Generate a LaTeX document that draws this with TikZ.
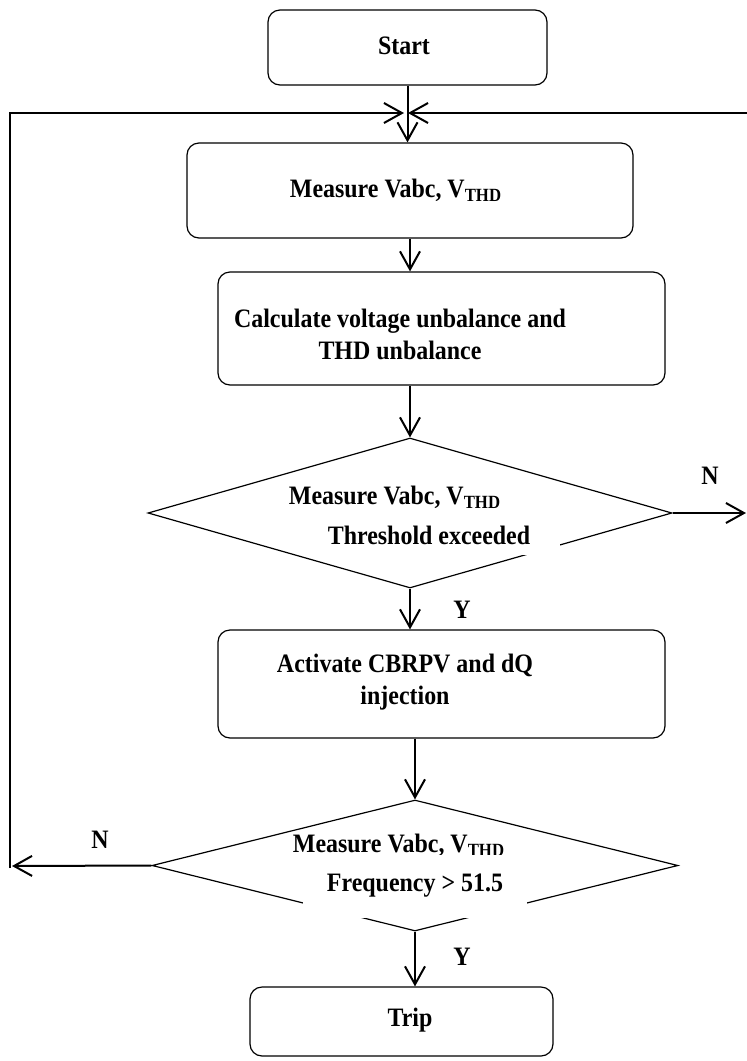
\documentclass[tikz,border=0pt]{standalone}
\usepackage{fontspec}
\setmainfont{Liberation Serif}[FakeStretch=0.9]
\usetikzlibrary{arrows.meta,shapes.geometric}

\begin{document}
\begin{tikzpicture}[x=0.5pt, y=-0.5pt,
  box/.style={rectangle, rounded corners=6pt, draw, line width=0.6pt, inner sep=0pt},
  decision/.style={diamond, draw, line width=0.6pt, inner sep=0pt},
  txt/.style={font=\bfseries\fontsize{13.3}{16}\selectfont, align=center, inner sep=1pt},
  mask/.style={txt, fill=white, inner sep=0pt},
  flow/.style={-{Straight Barb[length=9pt, width=10pt]}, line width=1pt},
  tag/.style={font=\bfseries\fontsize{13.3}{14}\selectfont}
]
  \useasboundingbox (0,0) rectangle (747,1061);
  % Process boxes
  \node[box, minimum width=139.5pt, minimum height=37.5pt] (start) at (407.5,47.5) {};
  \node[box, minimum width=223pt, minimum height=47.5pt]   (meas)  at (410,190.5) {};
  \node[box, minimum width=223.5pt, minimum height=56.5pt] (calc)  at (441.5,328.5) {};
  \node[box, minimum width=223.5pt, minimum height=54pt]   (act)   at (441.5,684) {};
  \node[box, minimum width=151.5pt, minimum height=34.5pt] (trip)  at (401.5,1021.5) {};
  % Decisions
  \node[decision, minimum width=262pt, minimum height=75pt]   (d1) at (410,513) {};
  \node[decision, minimum width=263pt, minimum height=65.5pt] (d2) at (415,865.5) {};
  % Texts
  \node[txt] (tstart) at (404,46)  {Start};
  \node[txt] (tmeas)  at (396,190) {Measure Vabc, V\textsubscript{THD}};
  \node[txt] (tcalc)  at (400,334) {Calculate voltage unbalance and\\THD unbalance};
  \node[txt] (tact)   at (405,682) {Activate CBRPV and dQ\\injection};
  \node[txt] (ttrip)  at (410,1020) {Trip};
  \node[txt] (td1a) at (395,497) {Measure Vabc, V\textsubscript{THD}};
  \node[mask, minimum width=131pt, minimum height=19.5pt] (td1b) at (429,535.5) {Threshold exceeded};
  \node[txt] (td2a) at (399,845) {Measure Vabc, V\textsubscript{THD}};
  \node[mask, minimum width=112pt, minimum height=31.5pt] (td2b) at (415,886) {Frequency > 51.5};
  % Loop ends
  \coordinate (lbase)   at (10,868);
  \coordinate (lcorner) at (10,113);
  \coordinate (jl)      at (404,113);
  \coordinate (jr)      at (408,113);
  \coordinate (rtop)    at (747,113);
  \coordinate (rexit)   at (746,513);
  \coordinate (lfoot)   at (12,866);
  % Connectors
  \draw[flow] (start.south) -- (start.south |- meas.north);
  \draw[flow] (d1 |- meas.south) -- (d1 |- calc.north);
  \draw[flow] (d1 |- calc.south) -- (d1.north);
  \draw[flow] (d1.south) -- (d1 |- act.north);
  \draw[flow] (d2 |- act.south) -- (d2.north);
  \draw[flow] (d2.south) -- (d2 |- trip.north);
  \draw[flow] (d1.east) -- (rexit);
  \draw[flow] (d2.west) -- (lfoot);
  \draw[flow] (lbase) -- (lcorner) -- (jl);
  \draw[flow] (rtop) -- (jr);
  % Branch labels
  \node[tag] (n1) at (710,476) {N};
  \node[tag] (y1) at (462,610) {Y};
  \node[tag] (n2) at (100,840) {N};
  \node[tag] (y2) at (462,957) {Y};
\end{tikzpicture}
\end{document}
